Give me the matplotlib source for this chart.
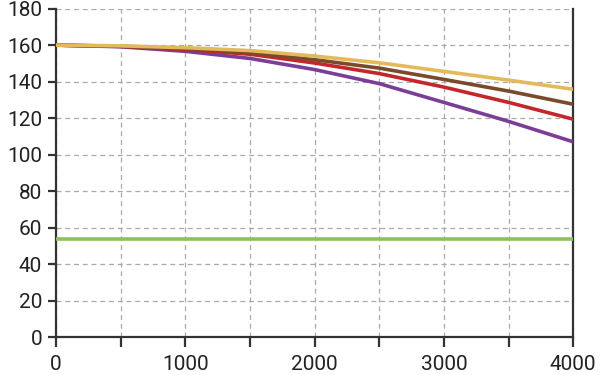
import matplotlib
matplotlib.use("Agg")
import matplotlib.pyplot as plt

plt.rcParams['font.family'] = ['Roboto', 'DejaVu Sans']

x = [0, 500, 1000, 1500, 2000, 2500, 3000, 3500, 4000]
yellow = [160, 159.6, 158.6, 157.0, 154.0, 150.3, 145.6, 140.8, 135.8]
brown = [160, 159.4, 158.1, 155.9, 152.0, 147.4, 141.2, 134.8, 127.6]
red = [160, 159.3, 157.6, 155.0, 150.2, 144.4, 137.0, 128.6, 119.4]
purple = [160, 159.1, 156.6, 152.7, 146.6, 138.9, 128.6, 118.2, 107.0]
green = [53.5] * len(x)

series = [
    (green, "#8cc25e"),
    (purple, "#7a3e96"),
    (red, "#c3272b"),
    (brown, "#7a4a2c"),
    (yellow, "#e4b95c"),
]

fig = plt.figure(figsize=(6, 3.75), dpi=100)
ax = fig.add_axes([0.0933, 0.1013, 0.862, 0.8757])

for vals, col in series:
    ax.plot(x, vals, color=col, lw=2.6, solid_capstyle="butt", zorder=3)

ax.set_xlim(0, 4000)
ax.set_ylim(0, 180)
ax.set_xticks([0, 1000, 2000, 3000, 4000])
ax.set_xticks([500, 1500, 2500, 3500], minor=True)
ax.set_yticks(range(0, 181, 20))

ax.grid(True, which="both", color="#aaaaaa", lw=0.9, ls=(0, (4, 3)), zorder=1)

for s in ["left", "bottom", "right"]:
    ax.spines[s].set_color("#333333")
    ax.spines[s].set_linewidth(1.6)
ax.spines["top"].set_visible(False)

ax.tick_params(axis="both", which="both", color="#333333", width=1.6,
               length=6, labelsize=15, labelcolor="#222222")
ax.tick_params(axis="x", which="both", length=7, pad=6)
ax.tick_params(axis="y", pad=4)

fig.savefig("out.png", dpi=100)
